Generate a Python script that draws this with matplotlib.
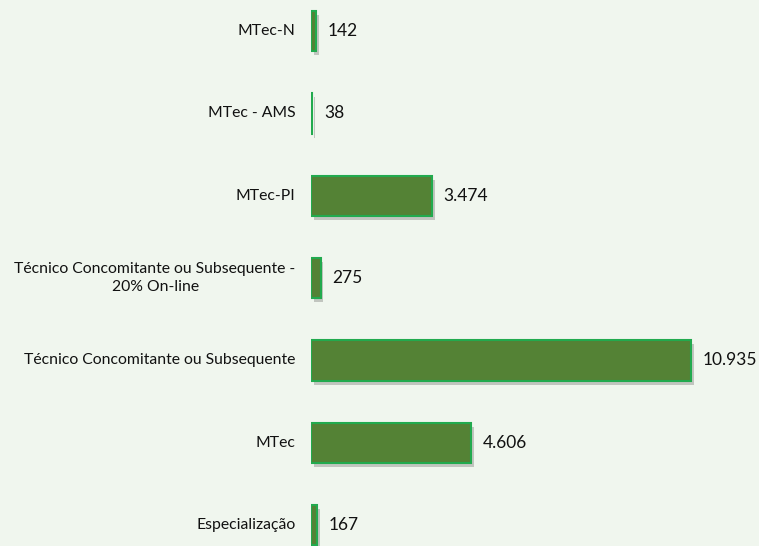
import matplotlib
matplotlib.use("Agg")
import matplotlib.pyplot as plt
import matplotlib.patheffects as pe

categories = ["Especialização", "MTec", "Técnico Concomitante ou Subsequente",
              "Técnico Concomitante ou Subsequente -\n20% On-line", "MTec-PI",
              "MTec - AMS", "MTec-N"]
values = [167, 4606, 10935, 275, 3474, 38, 142]
value_labels = ["167", "4.606", "10.935", "275", "3.474", "38", "142"]

bg = "#F0F6EE"
plt.rcParams['font.family'] = ['Lato', 'DejaVu Sans']

fig = plt.figure(figsize=(7.59, 5.46), dpi=100, facecolor=bg)
ax = fig.add_axes([311 / 759, 0, 448 / 759, 1], facecolor=bg)

ypos = list(range(len(categories)))
bars = ax.barh(ypos, values, height=0.49, color="#548235", edgecolor="#22AA4E",
               linewidth=1.5)
for b in bars:
    b.set_path_effects([pe.SimplePatchShadow(offset=(2, -3), alpha=0.3, shadow_rgbFace="#555555"),
                        pe.Normal()])

for y, v, lab in zip(ypos, values, value_labels):
    ax.annotate(lab, (v, y), xytext=(8.5, 0), textcoords="offset points",
                va="center", ha="left", fontsize=12.5, color="#111111")

for y, cat in zip(ypos, categories):
    ax.annotate(cat, (0, y), xytext=(-11, 0), textcoords="offset points",
                va="center", ha="right", multialignment="center",
                fontsize=11.3, color="#111111", linespacing=1.45,
                annotation_clip=False)

ax.set_xlim(0, 10935 * 448 / 380)
ax.set_ylim(-0.255, 6.377)
ax.axis("off")

fig.savefig("out.png", dpi=100, facecolor=bg)
